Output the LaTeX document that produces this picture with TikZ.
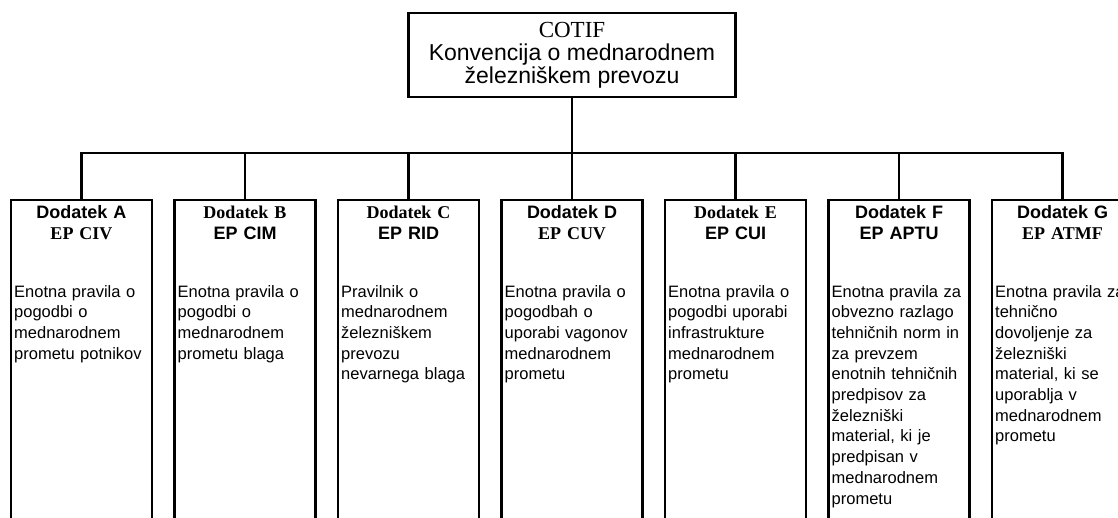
\documentclass[tikz,border=0pt]{standalone}
\usepackage{fontspec}
\setmainfont{Liberation Serif}
\setsansfont{Liberation Sans}

\newcommand\hsf{\sffamily\bfseries}
\newcommand\hrm{\rmfamily\bfseries}

\begin{document}
\begin{tikzpicture}[x=1pt,y=-1pt,
  every node/.style={font=\sffamily},
  box/.style={draw, line width=2.2pt, outer sep=0pt, inner sep=0pt},
  annex/.style={box, minimum width=141pt, minimum height=360pt, anchor=north},
  head/.style={font=\fontsize{18}{21}\selectfont, align=center, text width=141pt, inner sep=0pt, anchor=base},
  body/.style={font=\sffamily\fontsize{16.5}{20.7}\selectfont, align=left, text width=150pt, inner sep=0pt, anchor=base west},
  link/.style={line width=2.2pt}]
  \useasboundingbox (0,0) rectangle (1118,517);
  \clip (0,0) rectangle (1118,517);

  % Convention
  \node[box, minimum width=327pt, minimum height=84pt, align=center,
        font=\sffamily\fontsize{23}{23}\selectfont] (cotif) at (572,55)
       {{\rmfamily COTIF}\\Konvencija o mednarodnem\\železniškem prevozu};

  % Appendices
  \foreach \n/\x/\ha/\hb/\ep/\txt in {
    A/81.5/\hsf/\hrm/CIV/{Enotna pravila o\\pogodbi o\\mednarodnem\\prometu potnikov},
    B/245/\hrm/\hsf/CIM/{Enotna pravila o\\pogodbi o\\mednarodnem\\prometu blaga},
    C/408.5/\hrm/\hsf/RID/{Pravilnik o\\mednarodnem\\železniškem\\prevozu\\nevarnega blaga},
    D/572/\hsf/\hrm/CUV/{Enotna pravila o\\pogodbah o\\uporabi vagonov\\mednarodnem\\prometu},
    E/735.5/\hrm/\hsf/CUI/{Enotna pravila o\\pogodbi uporabi\\infrastrukture\\mednarodnem\\prometu},
    F/899/\hsf/\hsf/APTU/{Enotna pravila za\\obvezno razlago\\tehničnih norm in\\za prevzem\\enotnih tehničnih\\predpisov za\\železniški\\material, ki je\\predpisan v\\mednarodnem\\prometu},
    G/1062.5/\hsf/\hrm/ATMF/{Enotna pravila za\\tehnično\\dovoljenje za\\železniški\\material, ki se\\uporablja v\\mednarodnem\\prometu}
  } {
    \node[annex] (d\n) at (\x,200) {};
    \node[head] (h\n) at ([yshift=-18pt]d\n.north) {{\ha Dodatek \n}\\{\hb EP \ep}};
    \node[body] (b\n) at ([xshift=3pt,yshift=-97pt]d\n.north west) {\txt};
    \draw[link] (cotif.south) -- ++(0,56) -| (d\n.north);
  }
\end{tikzpicture}
\end{document}
